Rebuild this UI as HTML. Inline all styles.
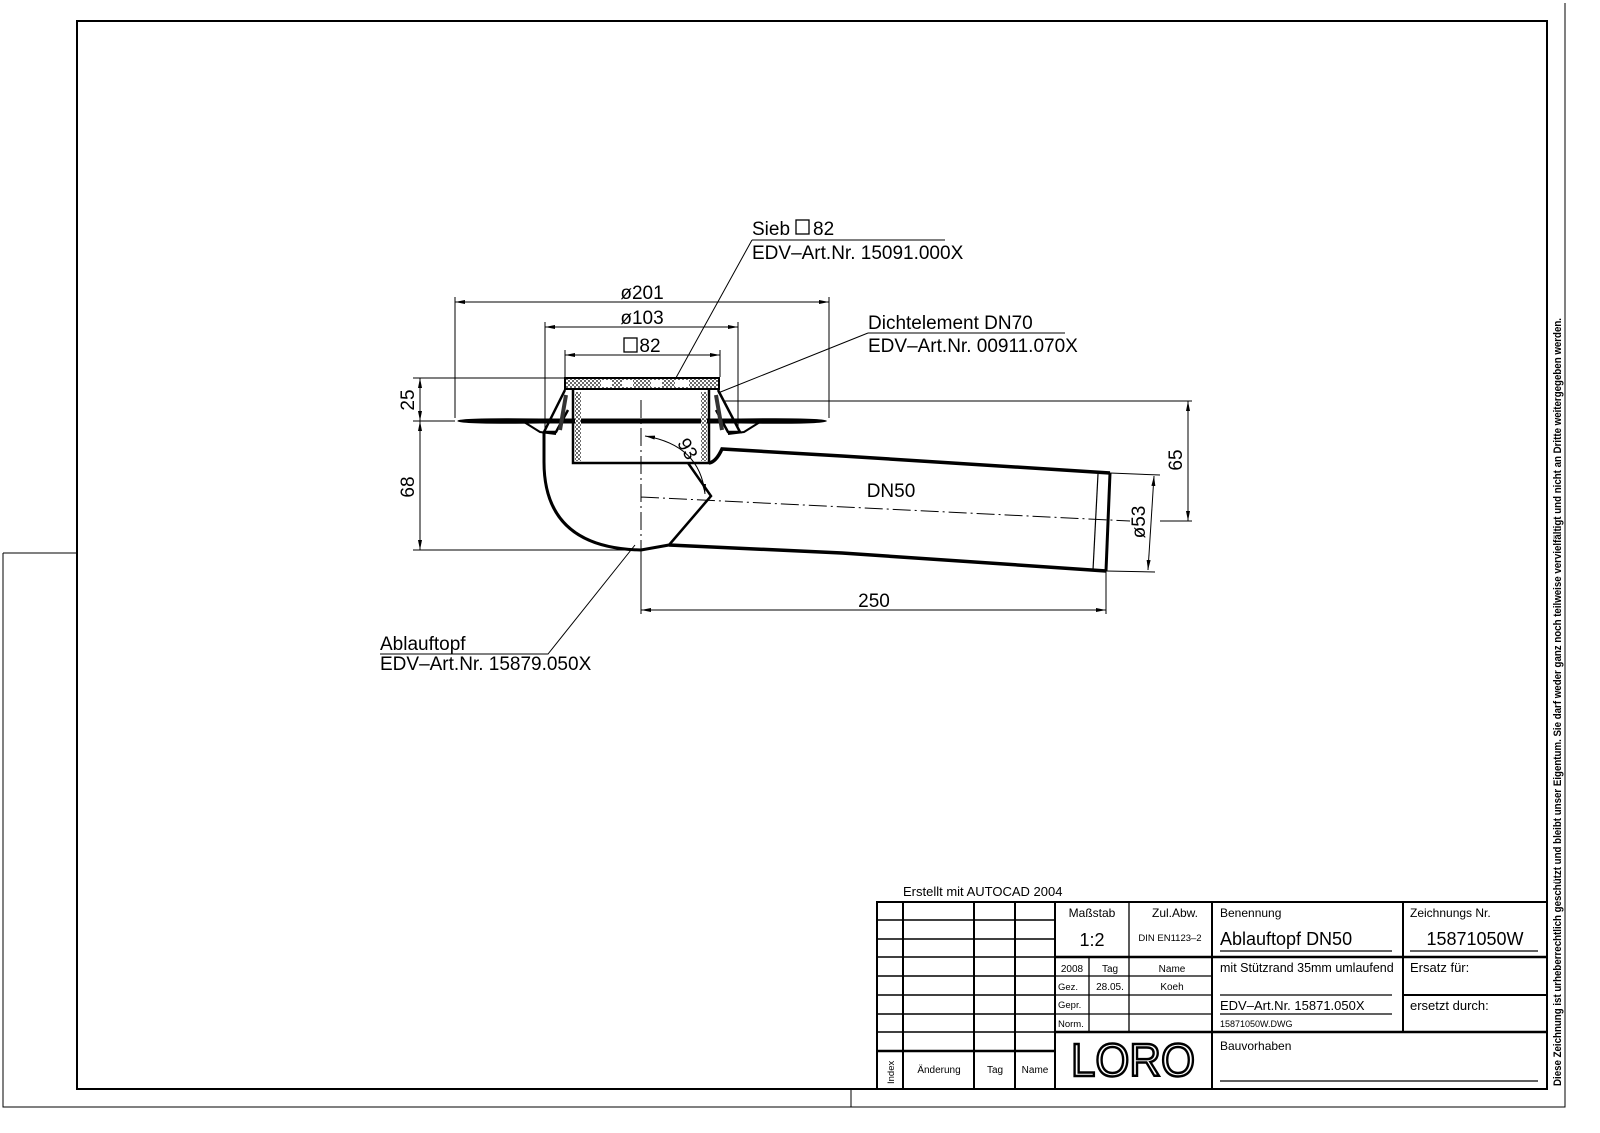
<!DOCTYPE html>
<html><head><meta charset="utf-8"><style>
html,body{margin:0;padding:0;background:#fff}
svg{display:block}
text{font-family:"Liberation Sans",sans-serif;fill:#000}
text.logo{fill:#fff;stroke:#000;stroke-width:2.5}
</style></head><body>
<svg width="1600" height="1133" viewBox="0 0 1600 1133" xmlns="http://www.w3.org/2000/svg">
<defs>
<marker id="a" viewBox="0 0 10 4" refX="10" refY="2" markerWidth="10" markerHeight="4" orient="auto-start-reverse" markerUnits="userSpaceOnUse"><path d="M0,0L10,2L0,4z" fill="#000"/></marker>
<pattern id="h" width="4" height="4" patternUnits="userSpaceOnUse"><rect width="4" height="4" fill="#fff"/><circle cx="1" cy="1" r="0.9" fill="#000"/><circle cx="3" cy="3" r="0.9" fill="#000"/></pattern>
</defs>
<g fill="none" stroke="#000">
<path d="M3,553V1107H1565V3" stroke-width="1"/>
<path d="M3,553H77M851,1089V1107" stroke-width="1"/>
<rect x="77" y="21" width="1470" height="1068" stroke-width="2"/>

<g stroke-width="1">
<path d="M455,297V418M829,297V418" />
<path d="M455,302H829" marker-start="url(#a)" marker-end="url(#a)"/>
<path d="M545,322V430M738,322V430"/>
<path d="M545,327H738" marker-start="url(#a)" marker-end="url(#a)"/>
<path d="M565,350V377M720,350V377"/>
<path d="M565,355H720" marker-start="url(#a)" marker-end="url(#a)"/>
<path d="M413,378H565M413,421H455M413,550H641"/>
<path d="M420,378V421" marker-start="url(#a)" marker-end="url(#a)"/>
<path d="M420,421V550" marker-start="url(#a)" marker-end="url(#a)"/>
<path d="M724,401H1192M1160,521H1192"/>
<path d="M1188,401V521" marker-start="url(#a)" marker-end="url(#a)"/>
<path d="M1110,473L1160,475M1106,571L1155,572"/>
<path d="M1154,476L1148,570" marker-start="url(#a)" marker-end="url(#a)"/>
<path d="M641,552V614M1106,571V614"/>
<path d="M641,610H1106" marker-start="url(#a)" marker-end="url(#a)"/>
<path d="M752,240H945M752,240L672,385"/>
<path d="M868,333H1065M868,333L718,393"/>
<path d="M380,654H548L635,545"/>
<path d="M641,400V556M641,497L1130,521" stroke-dasharray="18,4,2,4"/>
<path d="M645,436Q700,445 705,494" marker-start="url(#a)" marker-end="url(#a)"/>
</g>

<path d="M458,421Q462,418 540,419L740,419Q820,418 826,421Q820,424 740,423L540,423Q462,424 458,421z" fill="#000" stroke-width="1"/>
<path d="M524,422L540,432L556,434M760,422L744,432L728,434" stroke-width="2"/>
<path d="M565,390L544,432L556,432L568,410M718,390L740,432L728,432L716,410" stroke-width="2.5"/>
<rect x="565" y="378" width="154" height="11" fill="url(#h)" stroke-width="2"/>
<g fill="#fff" stroke="none"><rect x="601" y="380" width="11" height="7"/><rect x="622" y="380" width="11" height="7"/><rect x="651" y="380" width="11" height="7"/><rect x="675" y="380" width="14" height="7"/></g>
<path d="M573,390V463H709V390" stroke-width="2.5"/>
<rect x="575" y="392" width="6" height="69" fill="url(#h)" stroke="none"/>
<rect x="701" y="392" width="6" height="69" fill="url(#h)" stroke="none"/>
<path d="M566,395L560,430M716,395L722,430" stroke-width="4" stroke="#333"/>
<path d="M544,432V462Q544,548 641,550L669,545" stroke-width="3"/>
<path d="M709,463Q716,462 722,449L842,456L1110,473" stroke-width="3.5"/>
<path d="M669,545L842,553L1106,571" stroke-width="3.5"/>
<path d="M1110,473L1106,571" stroke-width="3"/>
<path d="M1098,474L1093,570" stroke-width="1.2"/>
<path d="M688,463L711,496L669,545" stroke-width="2.5"/>
</g>

<g font-size="19">
<text x="642" y="299" text-anchor="middle">ø201</text>
<text x="642" y="324" text-anchor="middle">ø103</text>
<text x="650" y="352" text-anchor="middle">82</text>
<text x="891" y="497" text-anchor="middle">DN50</text>
<text x="874" y="607" text-anchor="middle">250</text>
<text transform="translate(414,400) rotate(-90)" text-anchor="middle">25</text>
<text transform="translate(414,487) rotate(-90)" text-anchor="middle">68</text>
<text transform="translate(1182,460) rotate(-90)" text-anchor="middle">65</text>
<text transform="translate(1145,522) rotate(-90)" text-anchor="middle">ø53</text>
<text transform="translate(682,452) rotate(60)" text-anchor="middle">93</text>
<text x="752" y="235">Sieb</text><text x="813" y="235">82</text>
<text x="752" y="259">EDV–Art.Nr. 15091.000X</text>
<text x="868" y="329">Dichtelement DN70</text>
<text x="868" y="352">EDV–Art.Nr. 00911.070X</text>
<text x="380" y="650">Ablauftopf</text>
<text x="380" y="670">EDV–Art.Nr. 15879.050X</text>
</g>
<g fill="none" stroke="#000" stroke-width="1.3"><rect x="624" y="338" width="13" height="14"/><rect x="796" y="220" width="13" height="14"/></g>

<text x="903" y="896" font-size="13">Erstellt mit AUTOCAD 2004</text>
<g fill="none" stroke="#000">
<rect x="877" y="902" width="670" height="187" stroke-width="2"/>
<path d="M903,902V1089M974,902V1089M1015,902V1089M1055,902V1089M1212,902V1089M1403,902V1032" stroke-width="2"/>
<path d="M877,920H1055M877,939H1055M877,957H1055M877,976H1055M877,995H1055M877,1014H1055M877,1032H1055" stroke-width="1.5"/>
<path d="M877,1051H1055" stroke-width="2.5"/>
<path d="M1055,957H1547M1055,1032H1547" stroke-width="2.5"/>
<path d="M1055,976H1212M1055,995H1212M1055,1014H1212M1129,902V957M1089,957V1032M1129,957V1032" stroke-width="1.3"/>
<path d="M1403,995H1547" stroke-width="2"/>
<path d="M1220,951H1392M1220,995H1392M1220,1014H1392M1410,951H1538M1220,1081H1538" stroke-width="1.2"/>
</g>
<g font-size="12">
<text x="1092" y="917" text-anchor="middle">Maßstab</text>
<text x="1175" y="917" text-anchor="middle">Zul.Abw.</text>
<text x="1220" y="917">Benennung</text>
<text x="1410" y="917">Zeichnungs Nr.</text>
<text x="1092" y="946" text-anchor="middle" font-size="18">1:2</text>
<text x="1170" y="941" text-anchor="middle" font-size="9.5">DIN EN1123–2</text>
<text x="1220" y="945" font-size="18">Ablauftopf DN50</text>
<text x="1475" y="945" text-anchor="middle" font-size="18">15871050W</text>
<text x="1072" y="972" text-anchor="middle" font-size="10">2008</text>
<text x="1110" y="972" text-anchor="middle" font-size="10">Tag</text>
<text x="1172" y="972" text-anchor="middle" font-size="10">Name</text>
<text x="1058" y="990" font-size="9.5">Gez.</text>
<text x="1110" y="990" text-anchor="middle" font-size="10">28.05.</text>
<text x="1172" y="990" text-anchor="middle" font-size="10">Koeh</text>
<text x="1058" y="1008" font-size="9.5">Gepr.</text>
<text x="1058" y="1027" font-size="9.5">Norm.</text>
<text x="1220" y="972" font-size="12.5">mit Stützrand 35mm umlaufend</text>
<text x="1410" y="972" font-size="13">Ersatz für:</text>
<text x="1220" y="1010" font-size="13">EDV–Art.Nr. 15871.050X</text>
<text x="1410" y="1010" font-size="13">ersetzt durch:</text>
<text x="1220" y="1027" font-size="9">15871050W.DWG</text>
<text x="1220" y="1050" font-size="12">Bauvorhaben</text>
<text x="939" y="1073" text-anchor="middle" font-size="10">Änderung</text>
<text x="995" y="1073" text-anchor="middle" font-size="10">Tag</text>
<text x="1035" y="1073" text-anchor="middle" font-size="10">Name</text>
<text transform="translate(894,1084) rotate(-90)" font-size="9.5">Index</text>
</g>
<text class="logo" x="1133" y="1076" text-anchor="middle" font-size="46" textLength="124" lengthAdjust="spacingAndGlyphs">LORO</text>
<text transform="translate(1561,1086) rotate(-90)" font-size="11" font-weight="bold" textLength="768" lengthAdjust="spacingAndGlyphs">Diese Zeichnung ist urheberrechtlich geschützt und bleibt unser Eigentum. Sie darf weder ganz noch teilweise vervielfältigt und nicht an Dritte weitergegeben werden.</text>
</svg>
</body></html>
